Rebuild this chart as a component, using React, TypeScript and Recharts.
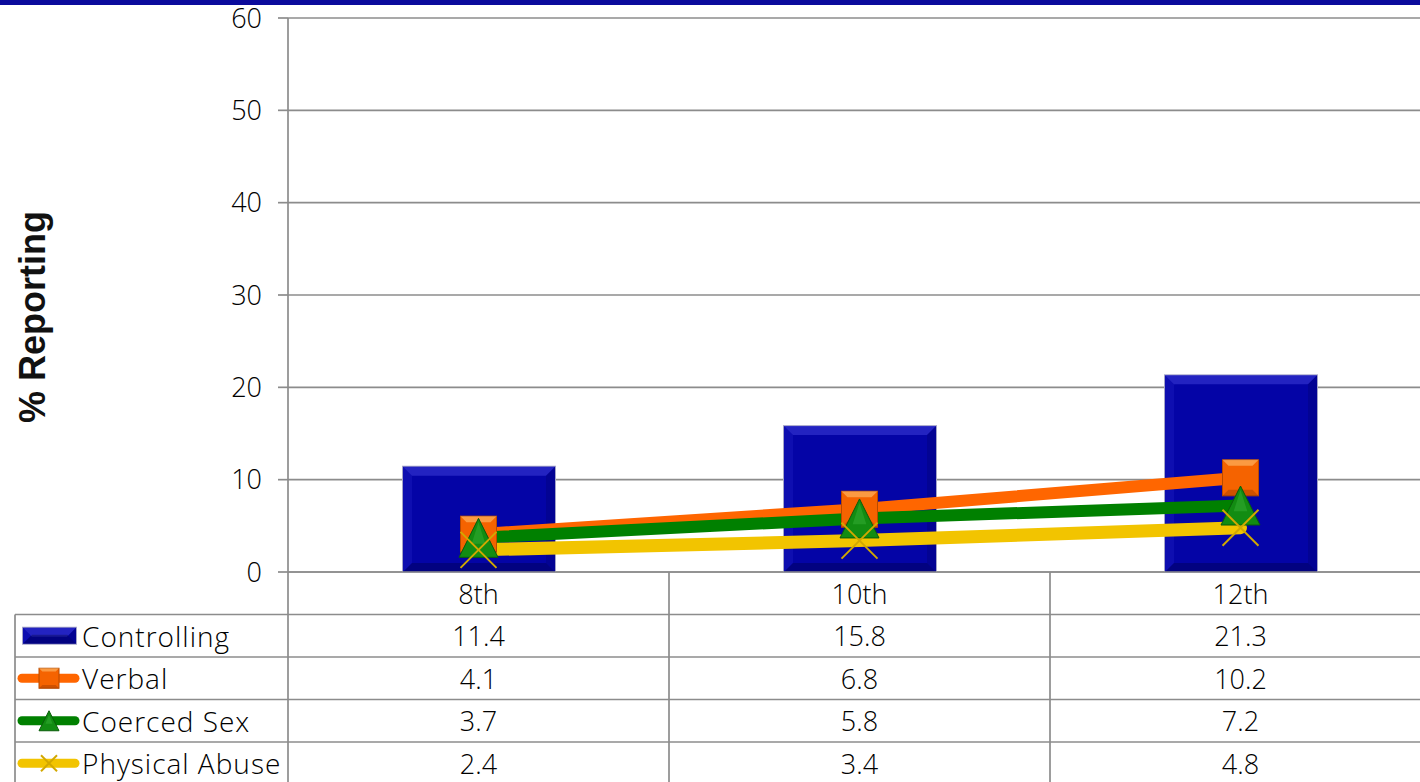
import React from "react";
import { Bar, CartesianGrid, ComposedChart, Line, XAxis, YAxis } from "recharts";

const categories = ["8th", "10th", "12th"];
const controlling = [11.4, 15.8, 21.3];
const verbal = [4.1, 6.8, 10.2];
const coercedSex = [3.7, 5.8, 7.2];
const physicalAbuse = [2.4, 3.4, 4.8];
const yTicks = [0, 10, 20, 30, 40, 50, 60];

const series = [
  { key: "controlling", name: "Controlling", values: controlling, kind: "bar" },
  { key: "verbal", name: "Verbal", values: verbal, kind: "square" },
  { key: "coercedSex", name: "Coerced Sex", values: coercedSex, kind: "triangle" },
  { key: "physicalAbuse", name: "Physical Abuse", values: physicalAbuse, kind: "cross" },
];

const data = categories.map((grade, i) => ({
  grade,
  controlling: controlling[i],
  verbal: verbal[i],
  coercedSex: coercedSex[i],
  physicalAbuse: physicalAbuse[i],
}));

const CHART_W = 1431;
const CHART_H = 782;
const Y_AXIS_W = 288;
const X_AXIS_H = 210;
const BAND = (CHART_W - Y_AXIS_W) / categories.length;
const ROW_H = 42.5;
const LEGEND_W = 273;
const GRID = "#8c8c8c";
const FONT = "Open Sans";
const TEXT = "#000";
const WEIGHT = 300;

const ORANGE = "#ff6600";
const GREEN = "#008000";
const YELLOW = "#f2c400";
const BLUE = "#0404a6";

function BevelBar(props: any) {
  const { x, y, width, height } = props;
  if (!height || height <= 0) return null;
  const b = 9;
  return (
    <g>
      <rect x={x - 1} y={y - 1} width={width + 2} height={height + 2} fill="#a4a4c8" />
      <rect x={x} y={y} width={width} height={height} fill={BLUE} />
      <polygon points={`${x},${y} ${x + width},${y} ${x + width - b},${y + b} ${x + b},${y + b}`} fill="rgba(110,110,255,0.3)" />
      <polygon points={`${x},${y} ${x + b},${y + b} ${x + b},${y + height - b} ${x},${y + height}`} fill="rgba(90,90,255,0.12)" />
      <polygon points={`${x + width},${y} ${x + width},${y + height} ${x + width - b},${y + height - b} ${x + width - b},${y + b}`} fill="rgba(0,0,40,0.15)" />
      <polygon points={`${x},${y + height} ${x + b},${y + height - b} ${x + width - b},${y + height - b} ${x + width},${y + height}`} fill="rgba(0,0,40,0.3)" />
    </g>
  );
}

function SquareMark({ cx, cy, s }: { cx: number; cy: number; s: number }) {
  const h = s / 2;
  const b = s / 6;
  const x = cx - h;
  const y = cy - h;
  return (
    <g>
      <rect x={x} y={y} width={s} height={s} fill="#f56300" stroke="#b84a00" strokeWidth={1} />
      <polygon points={`${x},${y} ${x + s},${y} ${x + s - b},${y + b} ${x + b},${y + b}`} fill="rgba(255,200,120,0.55)" />
      <polygon points={`${x},${y + s} ${x + b},${y + s - b} ${x + s - b},${y + s - b} ${x + s},${y + s}`} fill="rgba(120,40,0,0.3)" />
    </g>
  );
}

function TriangleMark({ cx, cy, s }: { cx: number; cy: number; s: number }) {
  const h = s / 2;
  return (
    <g>
      <polygon points={`${cx},${cy - h} ${cx + h},${cy + h} ${cx - h},${cy + h}`} fill="#128c12" stroke="#0a5c0a" strokeWidth={1} />
      <polygon points={`${cx},${cy - h + 4} ${cx + h * 0.35},${cy + h * 0.3} ${cx - h * 0.35},${cy + h * 0.3}`} fill="rgba(80,200,80,0.3)" />
    </g>
  );
}

function CrossMark({ cx, cy, s }: { cx: number; cy: number; s: number }) {
  const h = s / 2;
  return (
    <g stroke="#d2a800" strokeWidth={2}>
      <line x1={cx - h} y1={cy - h} x2={cx + h} y2={cy + h} />
      <line x1={cx - h} y1={cy + h} x2={cx + h} y2={cy - h} />
    </g>
  );
}

function LegendIcon({ kind, x, cy }: { kind: string; x: number; cy: number }) {
  if (kind === "bar") {
    return <BevelBar x={x + 8} y={cy - 8} width={53} height={16} />;
  }
  const color = kind === "square" ? ORANGE : kind === "triangle" ? GREEN : YELLOW;
  const mid = x + 34;
  return (
    <g>
      <line x1={x + 7} y1={cy} x2={x + 60} y2={cy} stroke={color} strokeWidth={9} strokeLinecap="round" />
      {kind === "square" && <SquareMark cx={mid} cy={cy} s={20} />}
      {kind === "triangle" && <TriangleMark cx={mid} cy={cy} s={20} />}
      {kind === "cross" && <CrossMark cx={mid} cy={cy} s={16} />}
    </g>
  );
}

function TableTick(props: any) {
  const { x, y, payload } = props;
  const i = categories.indexOf(payload.value);
  const left = x - BAND / 2;
  const right = x + BAND / 2;
  const legendLeft = left - LEGEND_W;
  const txt = { fontSize: 27, fontFamily: FONT, fontWeight: WEIGHT, fill: TEXT, dominantBaseline: "central" as const };
  return (
    <g>
      <line x1={right} y1={y} x2={right} y2={y + X_AXIS_H} stroke={GRID} strokeWidth={1.7} />
      {i === 0 && <line x1={left} y1={y} x2={left} y2={y + X_AXIS_H} stroke={GRID} strokeWidth={1.7} />}
      {i === 0 && <line x1={legendLeft} y1={y + ROW_H} x2={legendLeft} y2={y + X_AXIS_H} stroke={GRID} strokeWidth={1.7} />}
      {series.map((s, k) => (
        <line key={s.key} x1={i === 0 ? legendLeft : left} y1={y + ROW_H * (k + 1)} x2={right} y2={y + ROW_H * (k + 1)} stroke={GRID} strokeWidth={1.7} />
      ))}
      <text x={x} y={y + ROW_H / 2} textAnchor="middle" {...txt}>
        {payload.value}
      </text>
      {series.map((s, k) => (
        <text key={s.key} x={x} y={y + ROW_H * (k + 1.5)} textAnchor="middle" {...txt}>
          {s.values[i].toFixed(1)}
        </text>
      ))}
      {i === 0 &&
        series.map((s, k) => (
          <g key={s.key}>
            <LegendIcon kind={s.kind} x={legendLeft} cy={y + ROW_H * (k + 1.5)} />
            <text x={legendLeft + 67} y={y + ROW_H * (k + 1.5)} {...txt} fontSize={28} letterSpacing={1}>
              {s.name}
            </text>
          </g>
        ))}
    </g>
  );
}

function YLabel(props: any) {
  const { viewBox } = props;
  const cx = viewBox.x + 32;
  const cy = viewBox.y + viewBox.height / 2 + 22;
  return (
    <text x={cx} y={cy} transform={`rotate(-90 ${cx} ${cy})`} textAnchor="middle" dominantBaseline="central" fontSize={36} fontWeight="bold" fontFamily="Liberation Sans" fill="#111">
      % Reporting
    </text>
  );
}

export default function App() {
  return (
    <div style={{ position: "absolute", left: 0, top: 0, width: 1420, height: 782, overflow: "hidden", background: "#fff", fontFamily: FONT }}>
      <div style={{ position: "absolute", left: 0, top: 0, width: 1420, height: 5, background: "#0b0b9c" }} />
      <ComposedChart width={CHART_W} height={CHART_H} data={data} margin={{ top: 18, right: 0, bottom: 0, left: 0 }}>
        <CartesianGrid vertical={false} stroke={GRID} strokeWidth={1.7} />
        <YAxis
          domain={[0, 60]}
          ticks={yTicks}
          width={Y_AXIS_W}
          tickSize={10}
          tickMargin={16}
          interval={0}
          stroke={GRID}
          strokeWidth={1.7}
          tick={{ fontSize: 27, fill: TEXT, fontFamily: FONT, fontWeight: WEIGHT }}
          label={<YLabel />}
        />
        <XAxis dataKey="grade" height={X_AXIS_H} interval={0} tickLine={false} tickSize={0} tickMargin={0} stroke={GRID} strokeWidth={1.7} tick={<TableTick />} />
        <Bar dataKey="controlling" name="Controlling" barSize={152} shape={<BevelBar />} isAnimationActive={false} />
        <Line dataKey="verbal" name="Verbal" stroke={ORANGE} strokeWidth={12} strokeLinecap="round" isAnimationActive={false}
          dot={(p: any) => <SquareMark key={`v${p.index}`} cx={p.cx} cy={p.cy} s={36} />} />
        <Line dataKey="coercedSex" name="Coerced Sex" stroke={GREEN} strokeWidth={12} strokeLinecap="round" isAnimationActive={false}
          dot={(p: any) => <TriangleMark key={`c${p.index}`} cx={p.cx} cy={p.cy} s={39} />} />
        <Line dataKey="physicalAbuse" name="Physical Abuse" stroke={YELLOW} strokeWidth={13} strokeLinecap="round" isAnimationActive={false}
          dot={(p: any) => <CrossMark key={`p${p.index}`} cx={p.cx} cy={p.cy} s={36} />} />
      </ComposedChart>
    </div>
  );
}
